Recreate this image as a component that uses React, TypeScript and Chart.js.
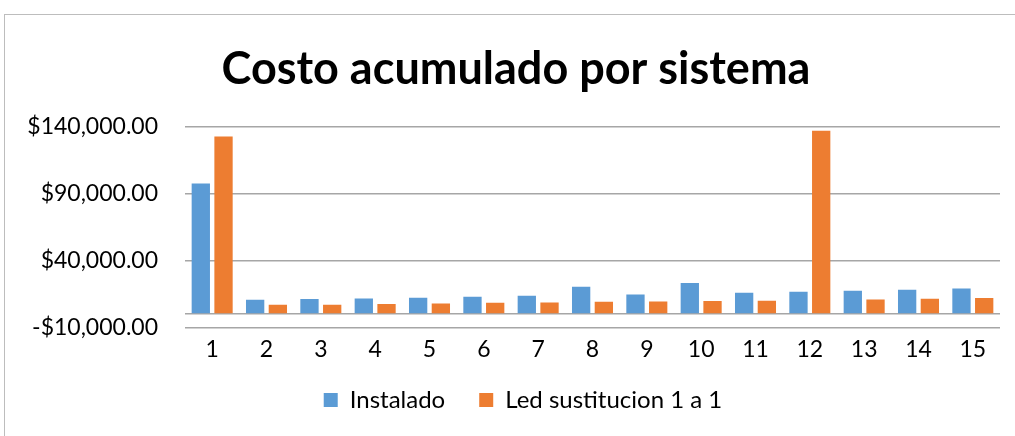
import React, { useEffect, useRef } from "react";
import { Chart, registerables } from "chart.js";

Chart.register(...registerables);

const categories = ["1", "2", "3", "4", "5", "6", "7", "8", "9", "10", "11", "12", "13", "14", "15"];
const instalado = [97800, 10700, 11200, 11700, 12200, 12900, 13700, 20400, 14700, 23200, 15900, 16700, 17400, 18200, 19200];
const ledSustitucion = [132900, 7000, 7000, 7500, 7900, 8400, 8700, 9200, 9400, 9700, 10000, 137200, 10900, 11400, 12000];
const yTicks = [-10000, 0, 40000, 90000, 140000];

const fmt = (v: number) => {
  const s = Math.abs(v).toLocaleString("en-US", { minimumFractionDigits: 2, maximumFractionDigits: 2 });
  return (v < 0 ? "-$" : "$") + s;
};

const shiftPlugin = {
  id: "shiftBlocks",
  afterLayout(chart: any) {
    const t = chart.titleBlock;
    if (t) {
      t.left += 16;
      t.right += 16;
    }
    const l = chart.legend;
    if (l) {
      l.left += 23;
      l.right += 23;
      l.top -= 17;
      l.bottom -= 17;
    }
  },
};

export default function App() {
  const ref = useRef<HTMLCanvasElement | null>(null);
  useEffect(() => {
    document.body.style.margin = "0";
    const ctx = ref.current!;
    const chart = new Chart(ctx, {
      type: "bar",
      data: {
        labels: categories,
        datasets: [
          { label: "Instalado", data: instalado, backgroundColor: "#5B9BD5", categoryPercentage: 0.836, barPercentage: 0.806 },
          { label: "Led sustitucion 1 a 1", data: ledSustitucion, backgroundColor: "#ED7D31", categoryPercentage: 0.836, barPercentage: 0.806 },
        ],
      },
      plugins: [shiftPlugin],
      options: {
        animation: false,
        responsive: false,
        maintainAspectRatio: false,
        layout: { padding: { left: 0, right: 15, top: 0, bottom: 0 } },
        plugins: {
          title: {
            display: true,
            text: "Costo acumulado por sistema",
            color: "#000",
            font: { family: "Lato", size: 45, weight: "bold" },
            padding: { top: 42, bottom: 31 },
          },
          legend: {
            position: "bottom",
            maxHeight: 65,
            labels: {
              color: "#000",
              font: { family: "Lato", size: 24 },
              boxWidth: 14,
              boxHeight: 14,
              padding: 34,
            },
          },
          tooltip: { enabled: false },
        },
        scales: {
          x: {
            grid: { display: false, drawTicks: false },
            border: { display: false },
            ticks: { color: "#000", font: { family: "Lato", size: 23 }, padding: 8 },
          },
          y: {
            min: -10000,
            max: 140000,
            afterBuildTicks: (scale: any) => {
              scale.ticks = yTicks.map((v) => ({ value: v }));
            },
            afterFit: (scale: any) => {
              scale.width = 185;
            },
            grid: { color: "#a6a6a6", lineWidth: 1.5, drawTicks: false },
            border: { display: false },
            ticks: {
              color: "#000",
              font: { family: "Lato", size: 23 },
              padding: 27,
              callback: (v: any) => (v === 0 ? "" : fmt(Number(v))),
            },
          },
        },
      },
    });
    return () => chart.destroy();
  }, []);
  return (
    <div style={{ position: "relative", width: 1015, height: 436, overflow: "hidden" }}>
      <div style={{ position: "absolute", left: 4, top: 14, width: 1030, height: 440, borderLeft: "1.5px solid #bdbdbd", borderTop: "1.5px solid #bdbdbd" }} />
      <canvas ref={ref} width={1015} height={436} style={{ position: "absolute", left: 0, top: 0, width: 1015, height: 436 }} />
    </div>
  );
}
